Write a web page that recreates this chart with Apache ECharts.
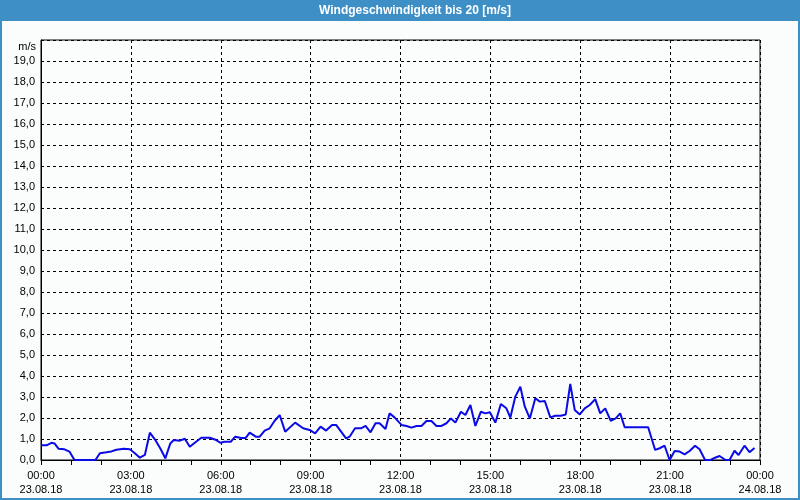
<!DOCTYPE html>
<html>
<head>
<meta charset="utf-8">
<script src="https://cdn.jsdelivr.net/npm/echarts@6/dist/echarts.min.js"></script>
<style>
html,body{margin:0;padding:0;background:#fbfdfc;}
#c{width:800px;height:500px;}
</style>
</head>
<body>
<div id="c"></div>
<script>
// time in minutes since 23.08.18 00:00
var minutes = [0,11,21,27,35,47,57,67,109,118,131,141,151,166,178,188,198,208,218,229,239,249,259,266,278,288,298,308,321,338,351,359,368,380,389,401,410,418,430,438,448,458,468,478,489,509,525,538,549,560,571,583,591,601,611,618,629,641,650,660,670,678,690,698,708,722,732,742,752,762,772,782,792,802,812,821,830,841,850,860,870,881,890,899,910,921,932,940,950,960,969,979,990,999,1009,1020,1030,1041,1051,1060,1069,1079,1089,1099,1110,1120,1130,1141,1151,1160,1169,1216,1230,1239,1249,1259,1269,1279,1289,1299,1310,1319,1330,1341,1350,1359,1371,1379,1389,1397,1409,1419,1429];
var speed = [0.70,0.70,0.82,0.79,0.54,0.51,0.40,0.00,0.00,0.32,0.37,0.41,0.49,0.54,0.51,0.32,0.11,0.24,1.30,0.95,0.55,0.08,0.79,0.95,0.92,1.01,0.63,0.82,1.06,1.06,0.95,0.82,0.87,0.87,1.11,1.05,1.05,1.30,1.11,1.11,1.40,1.51,1.87,2.14,1.35,1.78,1.51,1.43,1.27,1.59,1.40,1.67,1.67,1.35,1.03,1.11,1.51,1.51,1.62,1.32,1.75,1.75,1.48,2.22,2.03,1.67,1.62,1.54,1.62,1.62,1.86,1.86,1.62,1.62,1.75,1.98,1.78,2.30,2.14,2.62,1.62,2.30,2.22,2.27,1.78,2.67,2.46,2.02,3.02,3.49,2.54,1.98,2.94,2.78,2.81,2.03,2.11,2.11,2.17,3.62,2.38,2.17,2.46,2.62,2.90,2.22,2.46,1.87,1.98,2.22,1.56,1.56,0.48,0.56,0.68,0.00,0.43,0.40,0.27,0.43,0.68,0.51,0.00,0.00,0.11,0.19,0.00,0.00,0.44,0.24,0.68,0.37,0.57];
var timeTicks = ['00:00','03:00','06:00','09:00','12:00','15:00','18:00','21:00','00:00'];
var dateTicks = ['23.08.18','23.08.18','23.08.18','23.08.18','23.08.18','23.08.18','23.08.18','23.08.18','24.08.18'];
var titleText = 'Windgeschwindigkeit bis 20 [m/s]';
var unitText = 'm/s';

var data = minutes.map(function(m,i){return [m, speed[i]];});
var font = 'Liberation Sans';
var chart = echarts.init(document.getElementById('c'), null, {renderer:'canvas'});
chart.setOption({
  animation:false,
  backgroundColor:'#fbfdfc',
  grid:{left:41,top:40,right:40,bottom:40,show:true,borderColor:'#000',borderWidth:1,backgroundColor:'transparent'},
  graphic:[
    {type:'rect',shape:{x:0,y:0,width:800,height:21},style:{fill:'#3d8fc6'},z:0},
    {type:'rect',shape:{x:1,y:1,width:798,height:498},style:{fill:'none',stroke:'#3d8fc6',lineWidth:2},z:0},
    {type:'text',x:415,y:11,style:{text:titleText,fill:'#fff',font:'bold 12px "'+font+'"',textAlign:'center',textVerticalAlign:'middle'},z:10},
    {type:'text',x:36,y:47,style:{text:unitText,fill:'#000',font:'11px "'+font+'"',textAlign:'right',textVerticalAlign:'middle'},z:10}
  ],
  xAxis:{
    type:'value',min:0,max:1440,interval:180,
    axisLine:{show:true,lineStyle:{color:'#000',width:1}},
    axisTick:{show:true,length:5,lineStyle:{color:'#000'}},
    minorTick:{show:true,splitNumber:3,length:5,lineStyle:{color:'#000'}},
    splitLine:{show:true,lineStyle:{color:'#000',type:[3,3],width:1}},
    axisLabel:{
      color:'#000',fontFamily:font,fontSize:11,lineHeight:14,margin:9,
      formatter:function(v){var i=Math.round(v/180);return timeTicks[i]+'\n'+dateTicks[i];}
    }
  },
  yAxis:{
    type:'value',min:0,max:20,interval:1,
    axisLine:{show:true,lineStyle:{color:'#000'}},
    axisTick:{show:false},
    splitLine:{show:true,lineStyle:{color:'#000',type:[3,3],width:1}},
    axisLabel:{
      color:'#000',fontFamily:font,fontSize:11,margin:6,
      formatter:function(v){if(v>=20)return '';return v.toFixed(1).replace('.',',');}
    }
  },
  series:[{
    type:'line',data:data,showSymbol:false,
    lineStyle:{color:'#0a0ae6',width:2},
    itemStyle:{color:'#0a0ae6'}
  }]
});
</script>
</body>
</html>
